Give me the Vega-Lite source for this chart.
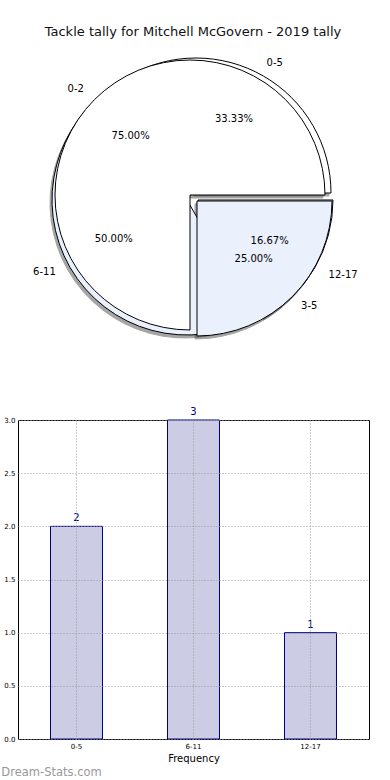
{
  "$schema": "https://vega.github.io/schema/vega-lite/v6.json",
  "background": "white",
  "padding": {"left": 1, "top": 26, "right": 0, "bottom": 2},
  "bounds": "flush",
  "spacing": 75,
  "config": {"font": "DejaVu Sans", "view": {"stroke": null}},
  "title": {"text": "Dream-Stats.com", "orient": "bottom", "anchor": "start", "frame": "bounds", "fontSize": 11.5, "fontWeight": "normal", "color": "#999999", "offset": 3, "dx": -2},
  "datasets": {
    "pie": [
      {"pie": 1, "idx": 1, "label": "0-5", "frac": 0.3333},
      {"pie": 1, "idx": 2, "label": "6-11", "frac": 0.5},
      {"pie": 1, "idx": 3, "label": "12-17", "frac": 0.1667},
      {"pie": 2, "idx": 1, "label": "0-2", "frac": 0.75},
      {"pie": 2, "idx": 2, "label": "3-5", "frac": 0.25}
    ],
    "bars": [
      {"range": "0-5", "count": 2},
      {"range": "6-11", "count": 3},
      {"range": "12-17", "count": 1}
    ]
  },
  "vconcat": [
    {
      "width": 344,
      "height": 300,
      "title": {"text": "Tackle tally for Mitchell McGovern - 2019 tally", "fontSize": 13, "fontWeight": "normal", "color": "#111111", "anchor": "middle", "offset": 6, "dx": 3},
      "data": {"name": "pie"},
      "transform": [
        {"stack": "frac", "groupby": ["pie"], "sort": [{"field": "idx", "order": "ascending"}], "as": ["t0", "t1"]}
      ],
      "layer": [
        {"transform": [{"filter": "datum.label === '0-5'"}],
         "mark": {"type": "arc", "radius": 135, "fill": "#4d4d4d", "stroke": "#4d4d4d", "opacity": 0.5, "xOffset": 4, "yOffset": 1},
         "encoding": {"theta": {"field": "t0", "type": "quantitative", "scale": {"domain": [0, 1], "range": [1.5708, -4.7124]}}, "theta2": {"field": "t1"}}},
        {"transform": [{"filter": "datum.label === '6-11'"}],
         "mark": {"type": "arc", "radius": 135, "fill": "#4d4d4d", "stroke": "#4d4d4d", "opacity": 0.5, "xOffset": -5, "yOffset": 8},
         "encoding": {"theta": {"field": "t0", "type": "quantitative"}, "theta2": {"field": "t1"}}},
        {"transform": [{"filter": "datum.label === '12-17'"}],
         "mark": {"type": "arc", "radius": 135, "fill": "#4d4d4d", "stroke": "#4d4d4d", "opacity": 0.5, "xOffset": 6, "yOffset": 8},
         "encoding": {"theta": {"field": "t0", "type": "quantitative"}, "theta2": {"field": "t1"}}},
        {"transform": [{"filter": "datum.label === '0-2'"}],
         "mark": {"type": "arc", "radius": 135, "fill": "#4d4d4d", "stroke": "#4d4d4d", "opacity": 0.5, "xOffset": -2, "yOffset": 3},
         "encoding": {"theta": {"field": "t0", "type": "quantitative"}, "theta2": {"field": "t1"}}},
        {"transform": [{"filter": "datum.label === '3-5'"}],
         "mark": {"type": "arc", "radius": 135, "fill": "#4d4d4d", "stroke": "#4d4d4d", "opacity": 0.5, "xOffset": 5, "yOffset": 9},
         "encoding": {"theta": {"field": "t0", "type": "quantitative"}, "theta2": {"field": "t1"}}},
        {"transform": [{"filter": "datum.label === '0-5'"}],
         "mark": {"type": "arc", "radius": 135, "fill": "white", "stroke": "black", "strokeWidth": 1, "xOffset": 6, "yOffset": -2},
         "encoding": {"theta": {"field": "t0", "type": "quantitative"}, "theta2": {"field": "t1"}}},
        {"transform": [{"filter": "datum.label === '6-11'"}],
         "mark": {"type": "arc", "radius": 135, "fill": "#eaf0fc", "stroke": "black", "strokeWidth": 1, "xOffset": -3, "yOffset": 5},
         "encoding": {"theta": {"field": "t0", "type": "quantitative"}, "theta2": {"field": "t1"}}},
        {"transform": [{"filter": "datum.label === '12-17'"}],
         "mark": {"type": "arc", "radius": 135, "fill": "white", "stroke": "black", "strokeWidth": 1, "xOffset": 8, "yOffset": 5},
         "encoding": {"theta": {"field": "t0", "type": "quantitative"}, "theta2": {"field": "t1"}}},
        {"transform": [{"filter": "datum.label === '0-2'"}],
         "mark": {"type": "arc", "radius": 135, "fill": "white", "stroke": "black", "strokeWidth": 1},
         "encoding": {"theta": {"field": "t0", "type": "quantitative"}, "theta2": {"field": "t1"}}},
        {"transform": [{"filter": "datum.label === '3-5'"}],
         "mark": {"type": "arc", "radius": 135, "fill": "#eaf0fc", "stroke": "black", "strokeWidth": 1, "xOffset": 7, "yOffset": 6},
         "encoding": {"theta": {"field": "t0", "type": "quantitative"}, "theta2": {"field": "t1"}}},

        {"transform": [{"filter": "datum.pie === 1"}],
         "mark": {"type": "text", "fontSize": 10, "color": "black", "align": "left", "baseline": "middle", "radius": 153},
         "encoding": {"theta": {"field": "frac", "type": "quantitative", "stack": true}, "order": {"field": "idx"}, "text": {"field": "label"},
           "opacity": {"condition": {"test": "datum.label === '0-5'", "value": 1}, "value": 0}}},
        {"transform": [{"filter": "datum.pie === 1"}],
         "mark": {"type": "text", "fontSize": 10, "color": "black", "align": "right", "baseline": "middle", "radius": 155},
         "encoding": {"theta": {"field": "frac", "type": "quantitative", "stack": true}, "order": {"field": "idx"}, "text": {"field": "label"},
           "opacity": {"condition": {"test": "datum.label === '6-11'", "value": 1}, "value": 0}}},
        {"transform": [{"filter": "datum.pie === 1"}],
         "mark": {"type": "text", "fontSize": 10, "color": "black", "align": "left", "baseline": "middle", "radius": 160},
         "encoding": {"theta": {"field": "frac", "type": "quantitative", "stack": true}, "order": {"field": "idx"}, "text": {"field": "label"},
           "opacity": {"condition": {"test": "datum.label === '12-17'", "value": 1}, "value": 0}}},
        {"transform": [{"filter": "datum.pie === 2"}],
         "mark": {"type": "text", "fontSize": 10, "color": "black", "align": "right", "baseline": "middle", "radius": 150},
         "encoding": {"theta": {"field": "frac", "type": "quantitative", "stack": true}, "order": {"field": "idx"}, "text": {"field": "label"},
           "opacity": {"condition": {"test": "datum.label === '0-2'", "value": 1}, "value": 0}}},
        {"transform": [{"filter": "datum.pie === 2"}],
         "mark": {"type": "text", "fontSize": 10, "color": "black", "align": "left", "baseline": "middle", "radius": 157},
         "encoding": {"theta": {"field": "frac", "type": "quantitative", "stack": true}, "order": {"field": "idx"}, "text": {"field": "label"},
           "opacity": {"condition": {"test": "datum.label === '3-5'", "value": 1}, "value": 0}}},

        {"transform": [{"filter": "datum.pie === 1"}],
         "mark": {"type": "text", "fontSize": 10, "color": "black", "align": "center", "baseline": "middle", "radius": 88},
         "encoding": {"theta": {"field": "frac", "type": "quantitative", "stack": true}, "order": {"field": "idx"}, "text": {"field": "frac", "type": "quantitative", "format": ".2%"},
           "opacity": {"condition": {"test": "datum.label !== '12-17'", "value": 1}, "value": 0}}},
        {"transform": [{"filter": "datum.pie === 1"}],
         "mark": {"type": "text", "fontSize": 10, "color": "black", "align": "center", "baseline": "middle", "radius": 92},
         "encoding": {"theta": {"field": "frac", "type": "quantitative", "stack": true}, "order": {"field": "idx"}, "text": {"field": "frac", "type": "quantitative", "format": ".2%"},
           "opacity": {"condition": {"test": "datum.label === '12-17'", "value": 1}, "value": 0}}},
        {"transform": [{"filter": "datum.pie === 2"}],
         "mark": {"type": "text", "fontSize": 10, "color": "black", "align": "center", "baseline": "middle", "radius": 84},
         "encoding": {"theta": {"field": "frac", "type": "quantitative", "stack": true}, "order": {"field": "idx"}, "text": {"field": "frac", "type": "quantitative", "format": ".2%"},
           "opacity": {"condition": {"test": "datum.label === '0-2'", "value": 1}, "value": 0}}},
        {"transform": [{"filter": "datum.pie === 2"}],
         "mark": {"type": "text", "fontSize": 10, "color": "black", "align": "center", "baseline": "middle", "radius": 90},
         "encoding": {"theta": {"field": "frac", "type": "quantitative", "stack": true}, "order": {"field": "idx"}, "text": {"field": "frac", "type": "quantitative", "format": ".2%"},
           "opacity": {"condition": {"test": "datum.label === '3-5'", "value": 1}, "value": 0}}}
      ]
    },
    {
      "width": 351,
      "height": 319,
      "view": {"stroke": "black", "strokeWidth": 1},
      "data": {"name": "bars"},
      "encoding": {
        "x": {"field": "range", "type": "nominal", "sort": null,
          "scale": {"paddingInner": 0.5556, "paddingOuter": 0.2778},
          "axis": {"title": "Frequency", "titleFontSize": 10, "titleFontWeight": "normal", "titleColor": "black", "titlePadding": 4,
            "labelFontSize": 7, "labelColor": "black", "labelAngle": 0, "labelPadding": 3, "ticks": false, "domain": false,
            "grid": true, "gridDash": [1, 2], "gridColor": "#999999", "zindex": 1}},
        "y": {"field": "count", "type": "quantitative", "scale": {"domain": [0, 3], "nice": false},
          "axis": {"title": null, "values": [0, 0.5, 1, 1.5, 2, 2.5, 3], "format": ".1f",
            "labelFontSize": 7, "labelColor": "black", "labelPadding": 3, "ticks": false, "domain": false,
            "grid": true, "gridDash": [1, 2], "gridColor": "#999999", "zindex": 1}}
      },
      "layer": [
        {"mark": {"type": "bar", "fill": "#ccccE5", "stroke": "#000080", "strokeWidth": 1}},
        {"mark": {"type": "text", "color": "#000080", "fontSize": 10, "baseline": "alphabetic", "dy": -5},
         "encoding": {"text": {"field": "count", "type": "quantitative"}}}
      ]
    }
  ]
}
